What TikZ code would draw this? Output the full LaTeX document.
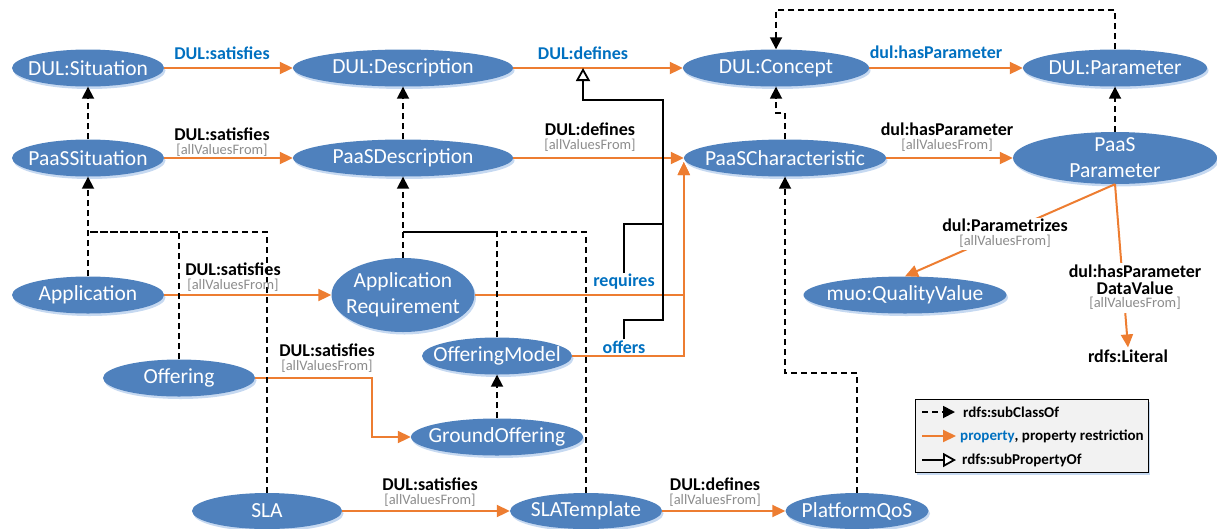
\documentclass[tikz,border=0pt]{standalone}
\usepackage{fontspec}
\setmainfont{Carlito}
\usetikzlibrary{arrows.meta,shadows,shapes.geometric,calc}
\definecolor{nodeblue}{HTML}{4F81BD}
\definecolor{shadowblue}{HTML}{C6D9F1}
\definecolor{propor}{HTML}{ED7D31}
\definecolor{lblue}{HTML}{0070C0}
\definecolor{avfgray}{HTML}{8C8C8C}
\definecolor{legfill}{HTML}{F2F2F2}
\newcommand{\avf}{\fontsize{14.5}{16}\selectfont\mdseries\color{avfgray}[allValuesFrom]}
\newcommand{\rlab}[1]{\begin{tabular}{@{}c@{}}\fontsize{18}{19}\selectfont\bfseries #1\\\avf\end{tabular}}
\newcommand{\rlabb}[2]{\begin{tabular}{@{}c@{}}\fontsize{18}{19}\selectfont\bfseries #1\\[1.5pt]\fontsize{18}{19}\selectfont\bfseries #2\\[-1pt]\avf\end{tabular}}
\begin{document}
\begin{tikzpicture}[x=1pt,y=-1pt,
  cls/.style={ellipse, fill=nodeblue, inner sep=0pt, drop shadow={shadow xshift=1.5pt,shadow yshift=-2.5pt,fill=shadowblue,opacity=1}},
  ntext/.style={text=white, font=\fontsize{21.5}{26}\selectfont, align=center, inner sep=0pt},
  prop/.style={draw=propor, line width=2pt, -{Triangle[length=13pt,width=12pt]}},
  sub/.style={draw=black, line width=1.8pt, dash pattern=on 6pt off 4pt, -{Triangle[length=12pt,width=12pt]}},
  subl/.style={draw=black, line width=1.8pt, dash pattern=on 6pt off 4pt},
  subp/.style={draw=black, line width=1.8pt, -{Triangle[open,length=13pt,width=14pt,fill=white]}},
  subpl/.style={draw=black, line width=1.8pt},
  bl/.style={text=lblue, font=\fontsize{18}{19}\selectfont\bfseries, inner sep=1pt},
  rl/.style={inner sep=0pt, font=\fontsize{10}{12}\selectfont},
  lg/.style={font=\fontsize{15}{17}\selectfont\bfseries, anchor=west, inner sep=0pt},
]
\useasboundingbox (0,0) rectangle (1217,528);

% class nodes
\node[cls, minimum width=152pt, minimum height=37pt, label={[ntext]center:{DUL:Situation}}] (sit) at (88,68) {};
\node[cls, minimum width=220pt, minimum height=37pt, label={[ntext]center:{DUL:Description}}] (desc) at (403,68) {};
\node[cls, minimum width=186pt, minimum height=37pt, label={[ntext]center:{DUL:Concept}}] (con) at (776,68) {};
\node[cls, minimum width=184pt, minimum height=37pt, label={[ntext]center:{DUL:Parameter}}] (par) at (1115,68) {};
\node[cls, minimum width=152pt, minimum height=37pt, label={[ntext]center:{PaaSSituation}}] (ps) at (88,158) {};
\node[cls, minimum width=220pt, minimum height=37pt, label={[ntext]center:{PaaSDescription}}] (pd) at (403,158) {};
\node[cls, minimum width=202pt, minimum height=37pt, label={[ntext]center:{PaaSCharacteristic}}] (pc) at (785,158) {};
\node[cls, minimum width=204pt, minimum height=52pt, label={[ntext]center:{PaaS\\Parameter}}] (pp) at (1115,158) {};
\node[cls, minimum width=152pt, minimum height=37pt, label={[ntext]center:{Application}}] (app) at (88,295) {};
\node[cls, minimum width=143pt, minimum height=74pt, label={[ntext]center:{Application\\Requirement}}] (ar) at (403,295) {};
\node[cls, minimum width=203pt, minimum height=37pt, label={[ntext]center:{muo:QualityValue}}] (qv) at (905,295) {};
\node[cls, minimum width=150pt, minimum height=37pt, label={[ntext]center:{OfferingModel}}] (om) at (497,356) {};
\node[cls, minimum width=152pt, minimum height=37pt, label={[ntext]center:{Offering}}] (off) at (179,378) {};
\node[cls, minimum width=172pt, minimum height=37pt, label={[ntext]center:{GroundOffering}}] (go) at (497,437) {};
\node[cls, minimum width=150pt, minimum height=36pt, label={[ntext]center:{SLA}}] (sla) at (267,511) {};
\node[cls, minimum width=152pt, minimum height=36pt, label={[ntext]center:{SLATemplate}}] (slt) at (586,511) {};
\node[cls, minimum width=143pt, minimum height=36pt, label={[ntext]center:{PlatformQoS}}] (pq) at (857,511) {};
\node[font=\fontsize{18}{19}\selectfont\bfseries, inner sep=2pt] (lit) at (1128,356) {rdfs:Literal};
\node[bl] (req) at (624,282) {requires};
\node[bl] (offl) at (624,347) {offers};

% helper coordinates
\coordinate (j0) at (0,10);
\coordinate (j1) at (88,232);
\coordinate (j2) at (403,232);
\coordinate (j3) at (0,113);
\coordinate (j4) at (0,373);
\coordinate (j5) at (663,224);
\coordinate (j6) at (663,320);
\coordinate (j7) at (663,100);
\coordinate (tri) at (583,68);
\coordinate (bend1) at (372,0);

% properties
\draw[prop] (sit) -- (desc);
\draw[prop] (desc) -- (con);
\draw[prop] (con) -- (par);
\draw[prop] (ps) -- (pd);
\draw[prop] (pd) -- (pc);
\draw[prop] (pc) -- (pp);
\draw[prop] (app) -- (ar);
\draw[prop] (off.east) -- (off.east -| bend1) |- (go.west);
\draw[prop] (ar.east) -| ([yshift=-4pt]pc.west);
\draw[prop] (om.east) -| ([yshift=-4pt]pc.west);
\draw[prop] (sla) -- (slt);
\draw[prop] (slt) -- (pq);
\draw[prop] (pp.south) -- (qv.north);
\draw[prop] (pp.south) -- (lit.north);

% subclass
\draw[sub] (ps) -- (sit);
\draw[sub] (pd) -- (desc);
\draw[sub] (pp) -- (par);
\draw[sub] (pc.north) -- (pc.north |- j3) -| (con.south);
\draw[sub] (par.north) -- (par.north |- j0) -| (con.north);
\draw[sub] (app) -- (ps);
\draw[subl] (off.north) |- (j1);
\draw[subl] (sla.north) |- (j1);
\draw[sub] (ar) -- (pd);
\draw[subl] (om.north) |- (j2);
\draw[subl] (slt.north) |- (j2);
\draw[sub] (go) -- (om);
\draw[sub] (pq.north) -- (pq.north |- j4) -| (pc.south);

% subproperty
\draw[subpl] (req.north) |- (j5);
\draw[subp] (offl.north) |- (j6) -- (j7) -| (tri);

% edge labels
\node[bl] (l1) at (222,53) {DUL:satisfies};
\node[bl] (l2) at (583,53) {DUL:defines};
\node[bl] (l3) at (936,52) {dul:hasParameter};
\node[rl] (l4) at (222,143) {\rlab{DUL:satisfies}};
\node[rl] (l5) at (590,138) {\rlab{DUL:defines}};
\node[rl] (l6) at (947,138) {\rlab{dul:hasParameter}};
\node[rl] (l7) at (233,278) {\rlab{DUL:satisfies}};
\node[rl] (l8) at (327,359) {\rlab{DUL:satisfies}};
\node[rl] (l9) at (430,493) {\rlab{DUL:satisfies}};
\node[rl] (l10) at (715,493) {\rlab{DUL:defines}};
\node[rl, fill=white, inner sep=1pt] (l11) at (1005,234) {\rlab{dul:Parametrizes}};
\node[rl, fill=white, inner sep=1pt] (l12) at (1135,288) {\rlabb{dul:hasParameter}{DataValue}};

% legend
\node[draw=black, line width=1pt, fill=legfill, minimum width=233pt, minimum height=73pt, inner sep=0pt, drop shadow={shadow xshift=1.5pt,shadow yshift=-2.5pt,fill=shadowblue,opacity=1}] (leg) at (1031.5,435.5) {};
\coordinate (a1) at (922,412); \coordinate (b1) at (955,412);
\draw[sub] (a1) -- (b1);
\node[lg] (t1) at (963,412) {rdfs:subClassOf};
\coordinate (a2) at (922,436); \coordinate (b2) at (956,436);
\draw[prop] (a2) -- (b2);
\node[lg] (t2) at (960,436) {\textcolor{lblue}{property}, property restriction};
\coordinate (a3) at (922,460); \coordinate (b3) at (956,460);
\draw[subp] (a3) -- (b3);
\node[lg] (t3) at (962,460) {rdfs:subPropertyOf};
\end{tikzpicture}
\end{document}
